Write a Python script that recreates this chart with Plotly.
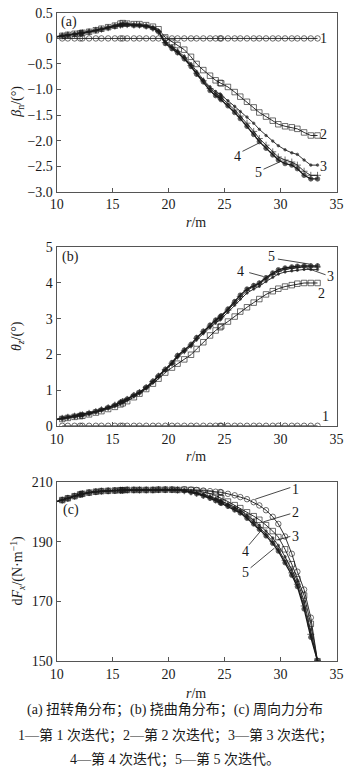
import plotly.graph_objects as go

# ---------------- data ----------------
r = [10.0, 10.5, 11.0, 11.6, 12.1, 12.3, 12.9, 13.5, 14.0, 14.6, 15.2, 15.7, 15.9, 16.3, 16.9,
     17.4, 18.0, 18.6, 19.1, 19.7, 20.3, 20.8, 21.4, 22.0, 22.5, 23.1, 23.7, 24.2, 24.6, 24.7,
     25.3, 25.9, 26.4, 27.0, 27.6, 28.1, 28.7, 29.3, 29.8, 30.4, 31.0, 31.5, 32.1, 32.7, 33.3]

# (a) twist angle beta_n
beta1 = [None] + [0.0] * 44
beta2 = [0.04, 0.05, 0.07, 0.09, 0.10, 0.11, 0.13, 0.16, 0.19, 0.22, 0.25, 0.29, 0.30, 0.29, 0.28,
         0.28, 0.26, 0.23, 0.18, 0.02, -0.07, -0.13, -0.22, -0.36, -0.50, -0.62, -0.73, -0.82, -0.87, -0.88,
         -0.95, -1.05, -1.14, -1.24, -1.35, -1.45, -1.53, -1.61, -1.68, -1.72, -1.74, -1.77, -1.84, -1.90, -1.90]
beta3 = [0.03, 0.05, 0.06, 0.08, 0.10, 0.10, 0.13, 0.15, 0.18, 0.21, 0.24, 0.26, 0.27, 0.27, 0.26,
         0.26, 0.24, 0.21, 0.15, -0.06, -0.16, -0.24, -0.35, -0.50, -0.65, -0.81, -0.95, -1.04, -1.09, -1.11,
         -1.22, -1.33, -1.43, -1.54, -1.66, -1.78, -1.90, -2.01, -2.10, -2.18, -2.24, -2.27, -2.38, -2.48, -2.48]
beta4 = [0.03, 0.05, 0.07, 0.08, 0.10, 0.11, 0.13, 0.16, 0.18, 0.21, 0.24, 0.26, 0.27, 0.27, 0.26,
         0.26, 0.24, 0.20, 0.13, -0.08, -0.18, -0.26, -0.38, -0.53, -0.68, -0.83, -0.98, -1.08, -1.13, -1.15,
         -1.28, -1.40, -1.52, -1.66, -1.82, -1.96, -2.09, -2.22, -2.32, -2.38, -2.42, -2.48, -2.60, -2.68, -2.68]
beta5 = [0.03, 0.05, 0.07, 0.08, 0.10, 0.11, 0.13, 0.16, 0.18, 0.21, 0.24, 0.26, 0.27, 0.27, 0.26,
         0.26, 0.24, 0.20, 0.13, -0.10, -0.20, -0.28, -0.40, -0.55, -0.70, -0.85, -1.02, -1.12, -1.17, -1.20,
         -1.32, -1.45, -1.57, -1.72, -1.88, -2.02, -2.15, -2.28, -2.38, -2.45, -2.48, -2.55, -2.68, -2.75, -2.75]

# (b) flap angle theta_z
theta1 = [None] + [0.0] * 44
theta2 = [0.17, 0.19, 0.22, 0.25, 0.27, 0.28, 0.32, 0.37, 0.41, 0.47, 0.53, 0.60, 0.63, 0.69, 0.80,
          0.90, 1.03, 1.18, 1.32, 1.49, 1.63, 1.74, 1.86, 1.99, 2.15, 2.34, 2.53, 2.67, 2.76, 2.79,
          2.92, 3.06, 3.20, 3.32, 3.45, 3.55, 3.68, 3.77, 3.84, 3.90, 3.94, 3.98, 4.00, 4.00, 4.00]
theta3 = [0.18, 0.21, 0.23, 0.26, 0.29, 0.30, 0.34, 0.39, 0.44, 0.50, 0.57, 0.64, 0.67, 0.73, 0.84,
          0.92, 1.05, 1.22, 1.37, 1.55, 1.73, 1.92, 2.07, 2.23, 2.41, 2.59, 2.75, 2.88, 2.97, 3.00,
          3.18, 3.38, 3.55, 3.72, 3.83, 3.91, 4.04, 4.16, 4.25, 4.31, 4.34, 4.36, 4.38, 4.38, 4.38]
theta4 = [0.18, 0.21, 0.24, 0.27, 0.30, 0.31, 0.35, 0.40, 0.45, 0.51, 0.58, 0.65, 0.68, 0.74, 0.85,
          0.93, 1.07, 1.24, 1.39, 1.57, 1.75, 1.95, 2.10, 2.26, 2.45, 2.63, 2.79, 2.93, 3.02, 3.05,
          3.24, 3.44, 3.62, 3.79, 3.90, 3.97, 4.11, 4.24, 4.32, 4.38, 4.41, 4.43, 4.45, 4.45, 4.45]
theta5 = [0.18, 0.21, 0.24, 0.27, 0.30, 0.31, 0.35, 0.40, 0.45, 0.51, 0.58, 0.66, 0.69, 0.75, 0.86,
          0.94, 1.08, 1.25, 1.40, 1.58, 1.77, 1.97, 2.12, 2.28, 2.47, 2.65, 2.82, 2.96, 3.05, 3.08,
          3.27, 3.48, 3.66, 3.83, 3.93, 4.00, 4.15, 4.28, 4.37, 4.42, 4.45, 4.47, 4.48, 4.48, 4.48]

# (c) circumferential force dF_x
early = [203.5, 204.0, 204.6, 205.3, 205.9, 206.1, 206.5, 206.8, 207.0, 207.1, 207.2, 207.3, 207.3,
         207.4, 207.4, 207.4, 207.4, 207.4, 207.5, 207.5, 207.5, 207.4]
f1 = early + [207.6, 207.5, 207.4, 207.2, 207.0, 206.8, 206.7, 206.6, 206.1, 205.6, 205.0, 204.3, 203.3,
              202.2, 200.6, 198.4, 196.0, 191.8, 186.0, 180.0, 174.0, 164.6, 150.0]
f2 = early + [207.5, 207.4, 207.2, 206.8, 206.2, 205.5, 204.9, 204.6, 203.5, 202.3, 201.3, 199.9, 198.6,
              197.4, 195.6, 193.6, 191.6, 187.5, 182.5, 177.5, 172.0, 162.5, 150.0]
f3 = early + [207.2, 206.8, 206.5, 205.9, 205.2, 204.5, 203.9, 203.7, 202.7, 201.6, 200.6, 199.0, 197.2,
              195.6, 193.6, 191.3, 188.8, 185.0, 180.8, 177.0, 170.0, 160.5, 150.0]
f4 = early + [207.1, 206.7, 206.3, 205.6, 204.9, 204.1, 203.4, 203.2, 202.2, 201.1, 200.1, 198.4, 196.5,
              194.8, 192.6, 190.2, 187.6, 183.8, 179.6, 175.8, 168.5, 159.0, 150.0]
f5 = early + [207.1, 206.6, 206.1, 205.4, 204.6, 203.8, 203.1, 202.9, 201.9, 200.7, 199.7, 197.9, 196.0,
              194.2, 192.0, 189.5, 186.9, 183.0, 178.8, 175.0, 167.5, 158.0, 150.0]

x_ticks = [10, 15, 20, 25, 30, 35]
a_ticks = [0.5, 0, -0.5, -1.0, -1.5, -2.0, -2.5, -3.0]
a_text = ["0.5", "0", "−0.5", "−1.0", "−1.5", "−2.0", "−2.5", "−3.0"]
b_ticks = [0, 1, 2, 3, 4, 5]
c_ticks = [150, 170, 190, 210]

caption = ["(a) 扭转角分布；(b) 挠曲角分布；(c) 周向力分布",
           "1—第 1 次迭代；2—第 2 次迭代；3—第 3 次迭代；",
           "4—第 4 次迭代；5—第 5 次迭代。"]

# ---------------- figure ----------------
W, H = 350, 780
FONT = "Liberation Serif, Times New Roman, serif"
CJK = "Liberation Serif, Noto Sans CJK SC, serif"
INK = "#1a1a1a"
AX = "#555555"

fig = go.Figure()

n = len(r)
first_hidden = [0] + [1] * (n - 1)

styles = [
    dict(symbol="circle-open", size=5.5, color=INK, lw=0.9),
    dict(symbol="square-open", size=5.5, color=INK, lw=0.9),
    dict(symbol="circle", size=2.5, color=INK, lw=0.9),
    dict(symbol="cross-thin-open", size=5, color=INK, lw=0.9),
    dict(symbol="circle", size=4.5, color=INK, lw=1.3),
]

def add_series(ys_list, xa, ya):
    for i, ys in enumerate(ys_list):
        st = styles[i]
        sizes = [st["size"] * k for k in first_hidden]
        fig.add_trace(go.Scatter(
            x=r, y=ys, xaxis=xa, yaxis=ya, mode="lines+markers",
            line=dict(color=st["color"], width=st["lw"]),
            marker=dict(symbol=st["symbol"], size=sizes, color=st["color"],
                        line=dict(color=st["color"], width=0.9)),
            showlegend=False, hoverinfo="skip", connectgaps=False))

add_series([beta1, beta2, beta3, beta4, beta5], "x", "y")
add_series([theta1, theta2, theta3, theta4, theta5], "x2", "y2")
add_series([f1, f2, f3, f4, f5], "x3", "y3")

xdom = [51.7 / W, 343.3 / W]
def ydom(top, bot):
    return [(H - bot) / H, (H - top) / H]

def xaxis_cfg(anchor):
    return dict(domain=xdom, range=[10, 35], tickvals=x_ticks, ticks="inside", ticklen=4,
                tickcolor=AX, showline=True, linecolor=AX, linewidth=1, mirror=True,
                showgrid=False, zeroline=False, anchor=anchor, ticklabeloverflow="allow",
                tickfont=dict(family=FONT, size=14, color=INK))

def yaxis_cfg(anchor, dom, rng, tv, tt=None):
    d = dict(domain=dom, range=rng, tickvals=tv, ticks="inside", ticklen=4,
             tickcolor=AX, showline=True, linecolor=AX, linewidth=1, mirror=True,
             showgrid=False, zeroline=False, anchor=anchor, ticklabeloverflow="allow",
             tickfont=dict(family=FONT, size=14, color=INK))
    if tt is not None:
        d["ticktext"] = tt
    return d

fig.update_layout(
    width=W, height=H, margin=dict(l=0, r=0, t=0, b=0),
    paper_bgcolor="white", plot_bgcolor="white",
    xaxis=xaxis_cfg("y"), xaxis2=xaxis_cfg("y2"), xaxis3=xaxis_cfg("y3"),
    yaxis=yaxis_cfg("x", ydom(6, 188.3), [-3.0, 0.5], a_ticks, a_text),
    yaxis2=yaxis_cfg("x2", ydom(245, 427), [0, 5], b_ticks),
    yaxis3=yaxis_cfg("x3", ydom(484.5, 667), [150, 210], c_ticks),
)

ann = []
def txt(x, y, s, xref="paper", yref="paper", size=14, angle=0, font=FONT, xanchor="center"):
    ann.append(dict(x=x, y=y, xref=xref, yref=yref, text=s, showarrow=False,
                    textangle=angle, xanchor=xanchor, yanchor="middle",
                    font=dict(family=font, size=size, color=INK)))

def px(x):
    return x / W
def py(y):
    return (H - y) / H

# axis titles
for yy in (220, 458, 700):
    txt(px(197), py(yy), "<i>r</i>/m")
txt(px(11), py(97), "<i>β</i><sub>n</sub>/(°)", angle=-90)
txt(px(11), py(336), "<i>θ</i><sub><i>z</i></sub>/(°)", angle=-90)
txt(px(11), py(575), "d<i>F</i><sub><i>x</i></sub>/(N·m<sup>−1</sup>)", angle=-90)

# panel tags
txt(11.1, 0.33, "(a)", "x", "y")
txt(11.28, 4.73, "(b)", "x2", "y2")
txt(11.28, 200.6, "(c)", "x3", "y3")

# series labels
labels_a = [("1", 33.85, 0.0), ("2", 33.85, -1.88), ("3", 33.85, -2.5), ("4", 26.18, -2.31), ("5", 28.06, -2.62)]
labels_b = [("5", 29.17, 4.73), ("4", 26.44, 4.31), ("3", 34.45, 4.18), ("2", 33.68, 3.71), ("1", 34.0, 0.25)]
labels_c = [("1", 31.3, 207.6), ("2", 31.3, 200.0), ("3", 31.3, 191.8), ("4", 26.9, 186.8), ("5", 26.9, 179.7)]
for s, x, y in labels_a:
    txt(x, y, s, "x", "y")
for s, x, y in labels_b:
    txt(x, y, s, "x2", "y2")
for s, x, y in labels_c:
    txt(x, y, s, "x3", "y3")

# leader lines
leaders = [
    ("x", "y", 26.6, -2.21, 28.14, -2.04),
    ("x", "y", 28.48, -2.56, 30.1, -2.40),
    ("x2", "y2", 29.76, 4.67, 32.57, 4.53),
    ("x2", "y2", 27.2, 4.29, 28.48, 4.18),
    ("x2", "y2", 34.02, 4.23, 32.3, 4.42),
    ("x3", "y3", 30.87, 208.2, 27.74, 204.3),
    ("x3", "y3", 30.87, 199.4, 28.46, 196.7),
    ("x3", "y3", 30.87, 191.8, 29.74, 190.7),
    ("x3", "y3", 27.18, 189.0, 28.31, 194.0),
    ("x3", "y3", 27.32, 181.3, 29.45, 187.9),
]
shapes = []
for xr, yr, x0, y0, x1, y1 in leaders:
    shapes.append(dict(type="line", xref=xr, yref=yr, x0=x0, y0=y0, x1=x1, y1=y1,
                       line=dict(color=INK, width=0.8)))

# caption
for yy, s in zip((717, 742.5, 767.5), caption):
    txt(0.5, py(yy), s, size=14, font=CJK)

fig.update_layout(annotations=ann, shapes=shapes)
fig.write_html("out.html")
